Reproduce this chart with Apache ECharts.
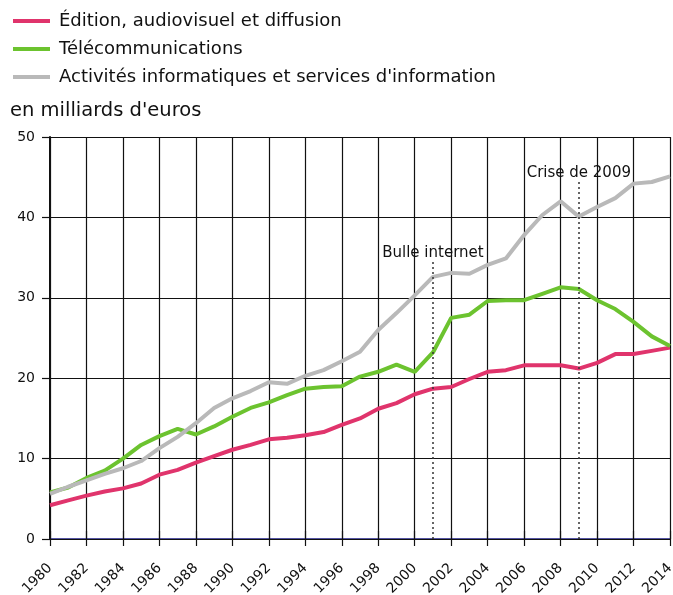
<!DOCTYPE html>
<html>
<head>
<meta charset="utf-8">
<script src="https://cdn.jsdelivr.net/npm/echarts@6/dist/echarts.min.js"></script>
<style>
  html, body { margin: 0; padding: 0; background: #fff; }
  #chart { width: 673px; height: 595px; }
</style>
</head>
<body>
<div id="chart"></div>
<script>
// années 1980 -> 2014
const years = [];
for (let y = 1980; y <= 2014; y++) years.push(y);

// en milliards d'euros
const edition = [4.2, 4.8, 5.4, 5.9, 6.3, 6.9, 8.0, 8.6, 9.5, 10.3,
  11.1, 11.7, 12.4, 12.6, 12.9, 13.3, 14.2, 15.0, 16.2, 16.9,
  18.0, 18.7, 18.9, 19.9, 20.8, 21.0, 21.6, 21.6, 21.6, 21.2,
  21.9, 23.0, 23.0, 23.4, 23.8];
const telecom = [5.8, 6.4, 7.6, 8.5, 10.0, 11.7, 12.8, 13.7, 13.0, 14.0,
  15.2, 16.3, 17.0, 17.9, 18.7, 18.9, 19.0, 20.2, 20.8, 21.7,
  20.8, 23.2, 27.5, 27.9, 29.6, 29.7, 29.7, 30.5, 31.3, 31.1,
  29.7, 28.6, 27.0, 25.2, 24.0];
const informatique = [5.6, 6.5, 7.3, 8.1, 8.8, 9.7, 11.3, 12.7, 14.4, 16.3,
  17.5, 18.4, 19.5, 19.3, 20.3, 21.0, 22.1, 23.3, 26.0, 28.1,
  30.3, 32.6, 33.1, 33.0, 34.1, 34.9, 37.8, 40.3, 42.0, 40.1,
  41.3, 42.4, 44.2, 44.4, 45.1];

// événements annotés (année, hauteur du trait pointillé)
const events = [
  { year: 2001, top: 34.6, label: "Bulle internet" },
  { year: 2009, top: 44.6, label: "Crise de 2009" }
];

const font = "'DejaVu Sans', Verdana, sans-serif";
const pair = (ys) => years.map((y, i) => [y, ys[i]]);

const myChart = echarts.init(document.getElementById("chart"));

const option = {
  animation: false,
  textStyle: { fontFamily: font },
  title: {
    text: "en milliards d'euros",
    left: 5,
    top: 96,
    textStyle: { fontFamily: font, fontSize: 19.5, fontWeight: "normal", color: "#111" }
  },
  legend: {
    orient: "vertical",
    left: 8,
    top: 7,
    icon: "rect",
    itemWidth: 37,
    itemHeight: 4,
    itemGap: 10,
    textStyle: { fontFamily: font, fontSize: 18, color: "#111", padding: [0, 0, 0, 4] },
    data: ["Édition, audiovisuel et diffusion", "Télécommunications",
      "Activités informatiques et services d'information"]
  },
  grid: { left: 50, right: 3, top: 137, bottom: 56, outerBoundsMode: "none" },
  xAxis: [
    {
      type: "value",
      min: 1980,
      max: 2014,
      interval: 2,
      axisLine: { show: true, onZero: false, lineStyle: { color: "#1c1c85", width: 1.5 } },
      axisTick: { show: true, length: 7, lineStyle: { color: "#111", width: 1.2 } },
      axisLabel: {
        rotate: 45,
        margin: 27,
        fontFamily: font,
        fontSize: 14,
        color: "#111",
        formatter: (v) => String(v)
      },
      splitLine: { show: true, lineStyle: { color: "#111", width: 1.2 } }
    },
    {
      type: "value",
      show: true,
      position: "top",
      min: 1980,
      max: 2014,
      interval: 2,
      axisLine: { show: true, lineStyle: { color: "#111", width: 1.2 } },
      axisTick: { show: true, length: 8, lineStyle: { color: "#111", width: 1.2 } },
      axisLabel: { show: false },
      splitLine: { show: false }
    }
  ],
  yAxis: {
    type: "value",
    min: 0,
    max: 50,
    interval: 10,
    axisLine: { show: true, lineStyle: { color: "#111", width: 2 } },
    axisTick: { show: true, length: 8, lineStyle: { color: "#111", width: 1.2 } },
    axisLabel: { fontFamily: font, fontSize: 14, color: "#111", margin: 15 },
    splitLine: { show: true, lineStyle: { color: "#111", width: 1.2 } }
  },
  series: [
    {
      name: "Édition, audiovisuel et diffusion",
      type: "line",
      data: pair(edition),
      symbol: "none",
      color: "#e0346c",
      lineStyle: { width: 4 }
    },
    {
      name: "Télécommunications",
      type: "line",
      data: pair(telecom),
      symbol: "none",
      color: "#6cc32f",
      lineStyle: { width: 4 }
    },
    {
      name: "Activités informatiques et services d'information",
      type: "line",
      data: pair(informatique),
      symbol: "none",
      color: "#b9b9b9",
      lineStyle: { width: 4 },
      markLine: {
        silent: true,
        symbol: "none",
        lineStyle: { color: "#333", type: [2, 3], width: 1.5 },
        label: {
          show: true,
          position: "end",
          distance: 0,
          fontFamily: font,
          fontSize: 15,
          color: "#111"
        },
        data: events.map((e) => [
          { coord: [e.year, 0] },
          { coord: [e.year, e.top], label: { formatter: e.label } }
        ])
      }
    }
  ]
};

myChart.setOption(option);
</script>
</body>
</html>
